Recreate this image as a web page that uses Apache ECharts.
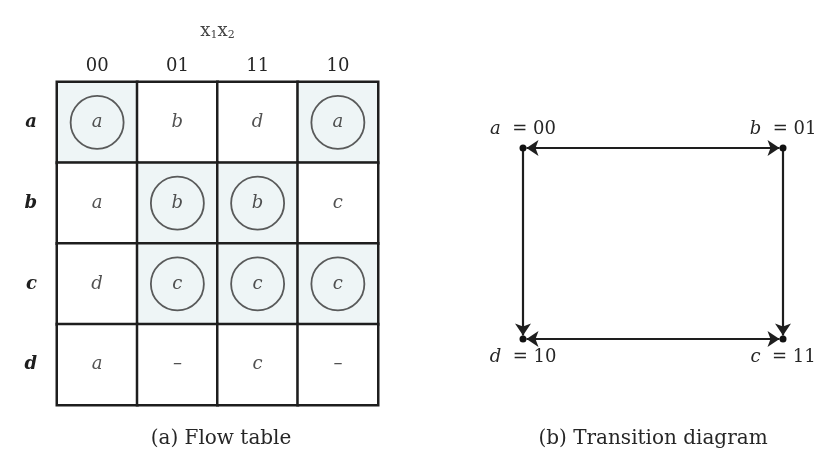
<!DOCTYPE html>
<html>
<head>
<meta charset="utf-8">
<script src="https://cdn.jsdelivr.net/npm/echarts@6/dist/echarts.min.js"></script>
<style>
  html, body { margin: 0; padding: 0; background: #fff; }
  #chart { width: 837px; height: 455px; }
</style>
</head>
<body>
<div id="chart"></div>
<script>
// ---- data ----
const inputColumns = ['00', '01', '11', '10'];          // x1x2
const states = ['a', 'b', 'c', 'd'];                      // present state rows
const nextStateRowA = ['a', 'b', 'd', 'a'];
const nextStateRowB = ['a', 'b', 'b', 'c'];
const nextStateRowC = ['d', 'c', 'c', 'c'];
const nextStateRowD = ['a', '–', 'c', '–'];
const flowTable = [nextStateRowA, nextStateRowB, nextStateRowC, nextStateRowD];
const stateCodes = ['00', '01', '11', '10'];              // a, b, c, d assignment
const diagramEdges = [                                     // [from, to, bidirectional]
  ['a', 'b', true],
  ['a', 'd', false],
  ['b', 'c', false],
  ['d', 'c', true]
];
const captionA = '(a) Flow table';
const captionB = '(b) Transition diagram';

// ---- build series data ----
const SERIF = 'DejaVu Serif';
const INK = '#1e1e1e';
const TEXT = '#262626';

const cellData = [];
const labelData = [];
const circleData = [];
flowTable.forEach(function (row, r) {
  row.forEach(function (next, c) {
    const stable = next === states[r];
    cellData.push([c, r, stable ? 1 : 0]);
    labelData.push({ value: [c, r], name: next });
    if (stable) circleData.push([c, r]);
  });
});

const nodes = states.map(function (s, i) {
  const code = stateCodes[i];
  const top = code[0] === '0';
  return {
    name: s,
    value: [Number(code[1]), Number(code[0])],
    label: {
      show: true,
      position: top ? 'top' : 'bottom',
      distance: 6,
      formatter: '{s|' + s + '}  = ' + code
    }
  };
});
const links = diagramEdges.map(function (e) {
  return {
    source: e[0], target: e[1],
    symbol: e[2] ? ['arrow', 'arrow'] : ['none', 'arrow']
  };
});

const chart = echarts.init(document.getElementById('chart'), null, { renderer: 'canvas' });
chart.setOption({
  animation: false,
  backgroundColor: '#fff',
  title: [
    { text: captionA, left: 216, top: 424, textAlign: 'center',
      textStyle: { fontFamily: SERIF, fontSize: 20, fontWeight: 'normal', color: TEXT } },
    { text: captionB, left: 648, top: 424, textAlign: 'center',
      textStyle: { fontFamily: SERIF, fontSize: 20, fontWeight: 'normal', color: TEXT } }
  ],
  grid: [
    { left: 57, top: 82, width: 321, height: 323 },
    { left: 523, top: 148, width: 260, height: 191 }
  ],
  xAxis: [
    {
      gridIndex: 0, type: 'category', position: 'top', data: inputColumns,
      axisLine: { show: false }, axisTick: { show: false },
      axisLabel: { fontFamily: SERIF, fontSize: 18, color: TEXT, margin: 7 },
      name: '{x|x}{sub|1}{x|x}{sub|2}', nameLocation: 'middle', nameGap: 41,
      nameTextStyle: {
        fontFamily: SERIF, fontSize: 18, color: '#444',
        rich: {
          x: { fontFamily: SERIF, fontSize: 18, color: '#444' },
          sub: { fontFamily: SERIF, fontSize: 11, color: '#444', padding: [9, 0, 0, 0] }
        }
      }
    },
    { gridIndex: 1, type: 'value', min: 0, max: 1, show: false }
  ],
  yAxis: [
    {
      gridIndex: 0, type: 'category', inverse: true, data: states,
      axisLine: { show: false }, axisTick: { show: false },
      axisLabel: { fontFamily: SERIF, fontSize: 18, fontStyle: 'italic', fontWeight: 'bold', color: INK, margin: 20 }
    },
    { gridIndex: 1, type: 'value', min: 0, max: 1, inverse: true, show: false }
  ],
  visualMap: {
    show: false, type: 'piecewise', seriesIndex: 0, dimension: 2,
    pieces: [{ value: 1, color: '#eef5f6' }, { value: 0, color: '#ffffff' }]
  },
  series: [
    {
      type: 'heatmap', xAxisIndex: 0, yAxisIndex: 0, data: cellData,
      itemStyle: { borderColor: INK, borderWidth: 2.5 },
      emphasis: { disabled: true }
    },
    {
      type: 'scatter', xAxisIndex: 0, yAxisIndex: 0, data: circleData,
      symbol: 'circle', symbolSize: 53, z: 3,
      itemStyle: { color: 'rgba(0,0,0,0)', borderColor: '#333', borderWidth: 1.8 },
      emphasis: { disabled: true }
    },
    {
      type: 'scatter', xAxisIndex: 0, yAxisIndex: 0, data: labelData,
      symbol: 'circle', symbolSize: 1, z: 4,
      itemStyle: { color: 'rgba(0,0,0,0)' },
      label: {
        show: true, position: 'inside', formatter: '{b}',
        fontFamily: SERIF, fontStyle: 'italic', fontSize: 18, color: TEXT
      },
      emphasis: { disabled: true }
    },
    {
      type: 'graph', coordinateSystem: 'cartesian2d', xAxisIndex: 1, yAxisIndex: 1,
      data: nodes, links: links,
      symbol: 'circle', symbolSize: 7,
      itemStyle: { color: '#111' },
      edgeSymbolSize: 12,
      lineStyle: { color: INK, width: 2.2, opacity: 1, curveness: 0 },
      label: {
        fontFamily: SERIF, fontSize: 18, color: TEXT,
        rich: { s: { fontFamily: SERIF, fontSize: 18, fontStyle: 'italic', color: TEXT } }
      },
      emphasis: { disabled: true }
    }
  ]
});
</script>
</body>
</html>
